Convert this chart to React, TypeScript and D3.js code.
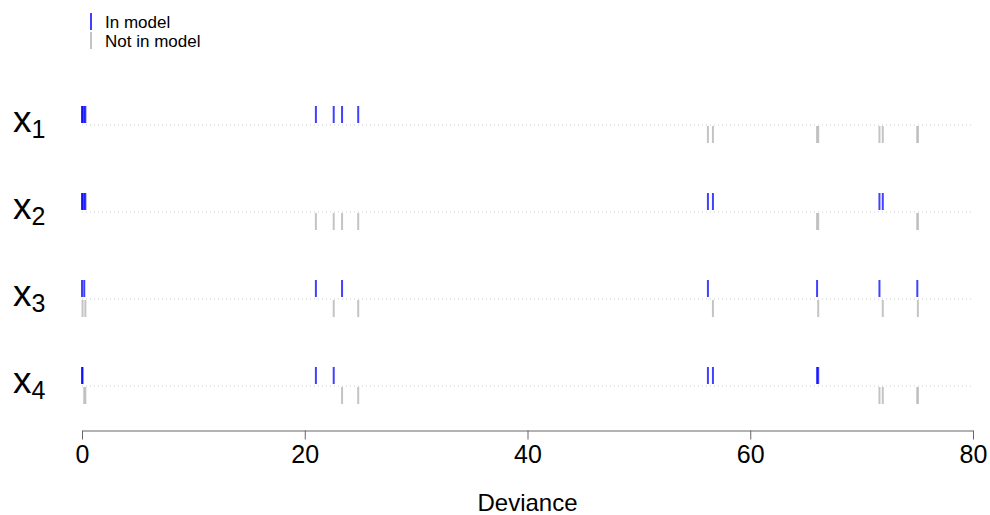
import React, { useEffect, useRef } from "react";
import * as d3 from "d3";

// all 16 subsets of the four predictors, with the deviance of each fit
const models = [
  ["x1", "x2", "x3", "x4"],
  ["x1", "x2", "x4"],
  ["x1", "x2", "x3"],
  ["x1", "x2"],
  ["x1", "x3", "x4"],
  ["x1", "x4"],
  ["x1", "x3"],
  ["x1"],
  ["x2", "x3", "x4"],
  ["x2", "x4"],
  ["x3", "x4"],
  ["x4"],
  ["x2", "x3"],
  ["x2"],
  ["x3"],
  [],
];
const deviance = [0, 0.05, 0.2, 0.3, 21.0, 22.6, 23.35, 24.8, 56.2, 56.65, 66.0, 66.1, 71.6, 71.9, 75.0, 75.05];
const variables = ["x1", "x2", "x3", "x4"];
const xTicks = [0, 20, 40, 60, 80];

const App = () => {
  const ref = useRef<SVGSVGElement>(null);

  useEffect(() => {
    drawChart();
  }, []);

  const drawChart = () => {
    const svg = d3.select(ref.current);
    svg.selectAll("*").remove();

    const font = "Liberation Sans, Arial, Helvetica, sans-serif";
    const x = d3.scaleLinear().domain([0, 80]).range([82, 973]);
    const y = d3.scalePoint().domain(variables).range([125, 386]);

    const rows = svg
      .selectAll("g.row")
      .data(variables)
      .enter()
      .append("g")
      .attr("class", "row")
      .attr("transform", (v) => `translate(0,${y(v)})`);

    rows
      .append("line")
      .attr("x1", x(0))
      .attr("x2", x(80))
      .attr("stroke", "#cfcfcf")
      .attr("stroke-dasharray", "1,3");

    // row labels with subscripts
    const lab = rows
      .append("text")
      .attr("x", 13)
      .attr("y", 7)
      .attr("font-family", font)
      .attr("font-size", 37)
      .attr("fill", "#000");
    lab.append("tspan").text("x");
    lab
      .append("tspan")
      .attr("font-size", 25)
      .attr("dy", 6)
      .text((v) => v.slice(1));

    const fits = models.map((m, i) => ({ vars: m, dev: deviance[i] }));

    rows.each(function (v) {
      const g = d3.select(this);
      g.selectAll("line.tick")
        .data(fits)
        .enter()
        .append("line")
        .attr("class", "tick")
        .attr("x1", (d) => x(d.dev))
        .attr("x2", (d) => x(d.dev))
        .attr("y1", (d) => (d.vars.includes(v) ? -19 : 1))
        .attr("y2", (d) => (d.vars.includes(v) ? -2 : 18))
        .attr("stroke", (d) => (d.vars.includes(v) ? "#0000ff" : "#bebebe"))
        .attr("stroke-opacity", (d) => (d.vars.includes(v) ? 0.75 : 0.9))
        .attr("stroke-width", 2);
    });

    // x axis
    const axis = svg.append("g").attr("transform", "translate(0,430.5)");
    axis
      .call(d3.axisBottom(x).tickValues(xTicks).tickSize(9).tickSizeOuter(0).tickPadding(6))
      .attr("font-family", font)
      .attr("font-size", 25);
    axis.selectAll("path,line").attr("stroke", "#666");
    axis.selectAll("text").attr("fill", "#000");

    svg
      .append("text")
      .attr("x", (x(0) + x(80)) / 2)
      .attr("y", 511)
      .attr("text-anchor", "middle")
      .attr("font-family", font)
      .attr("font-size", 24)
      .text("Deviance");

    // legend
    const legend = [
      { label: "In model", color: "#0000ff", opacity: 0.75 },
      { label: "Not in model", color: "#bebebe", opacity: 0.9 },
    ];
    const lg = svg
      .selectAll("g.legend")
      .data(legend)
      .enter()
      .append("g")
      .attr("class", "legend")
      .attr("transform", (d, i) => `translate(0,${i * 19})`);
    lg.append("line")
      .attr("x1", 91)
      .attr("x2", 91)
      .attr("y1", 13)
      .attr("y2", 30)
      .attr("stroke", (d) => d.color)
      .attr("stroke-opacity", (d) => d.opacity)
      .attr("stroke-width", 2);
    lg.append("text")
      .attr("x", 105)
      .attr("y", 28)
      .attr("font-family", font)
      .attr("font-size", 17)
      .text((d) => d.label);
  };

  return (
    <div>
      <svg
        ref={ref}
        width="990"
        height="515"
        style={{ position: "absolute", left: 0, top: 0, background: "#fff" }}
      ></svg>
    </div>
  );
};

export default App;
